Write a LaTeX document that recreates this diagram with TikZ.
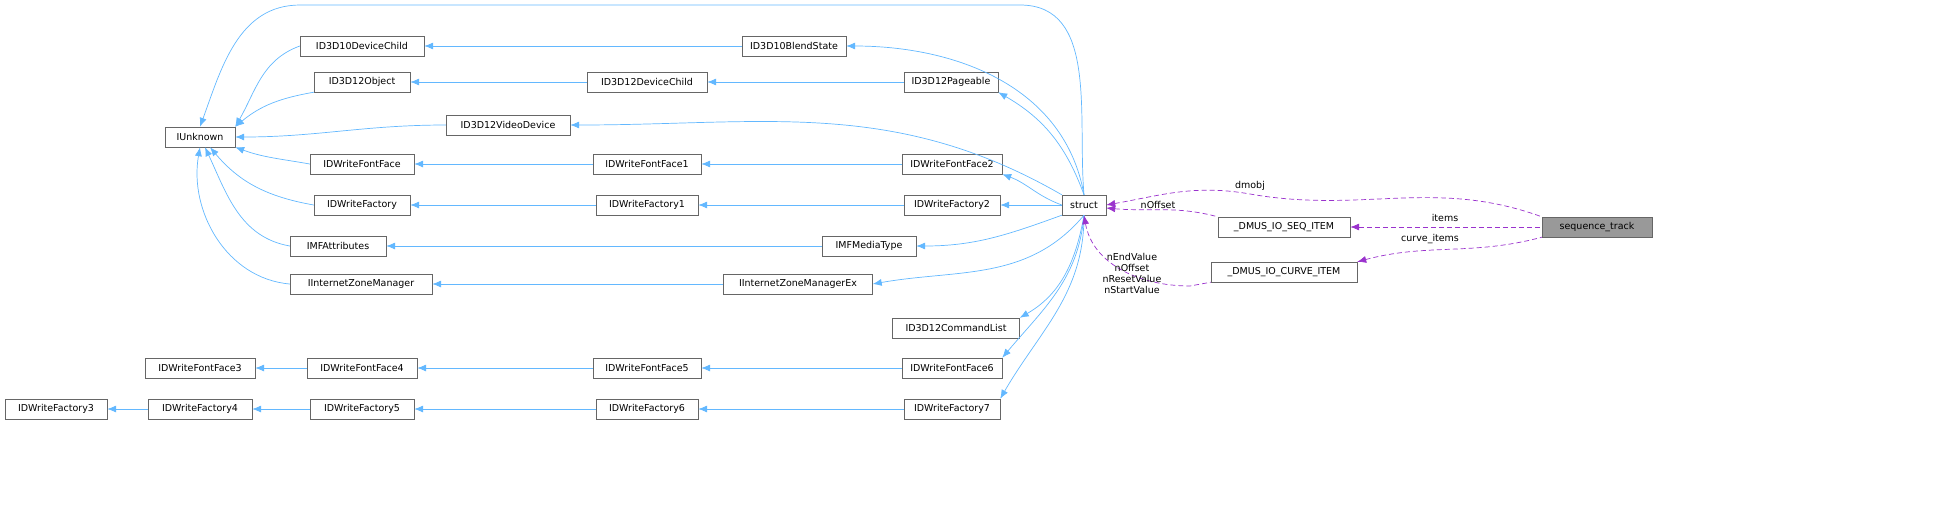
\documentclass[tikz,border=0pt]{standalone}
\usepackage{fontspec}
\setmainfont{DejaVu Sans}
\usetikzlibrary{arrows.meta}
\definecolor{eb}{HTML}{63B8FF}
\definecolor{ep}{HTML}{9A32CD}
\begin{document}
\begin{tikzpicture}[x=0.5pt,y=-0.5pt,transform shape,scale=1,
 every node/.append style={scale=0.5},
 box/.style={draw=black!60,fill=white,minimum height=20pt,inner sep=0pt,font=\fontsize{9.5}{11}\selectfont},
 inh/.style={draw=eb,line width=0.35pt,{Latex[length=4.5pt,width=3.5pt]}-},
 mem/.style={draw=ep,line width=0.35pt,dashed,dash pattern=on 2.5pt off 1.5pt,{Latex[length=4.5pt,width=3.5pt]}-},
 lab/.style={font=\fontsize{9.5}{11}\selectfont,inner sep=1pt,align=center}]
\useasboundingbox (0,0) rectangle (1953,526);
\def\N#1#2#3#4#5{\node[box,minimum width=#4pt] (#1) at (#2,#3) {#5};}
\N{iu}{200}{137}{70}{IUnknown}
\N{d10dc}{362}{46}{124}{ID3D10DeviceChild}
\N{d12o}{362}{82}{96}{ID3D12Object}
\N{vd}{508}{125}{124}{ID3D12VideoDevice}
\N{ff}{362}{164}{104}{IDWriteFontFace}
\N{fa}{362}{205}{96}{IDWriteFactory}
\N{mfa}{338}{246}{96}{IMFAttributes}
\N{izm}{361}{284}{142}{IInternetZoneManager}
\N{bs}{794}{46}{104}{ID3D10BlendState}
\N{d12dc}{647}{82}{120}{ID3D12DeviceChild}
\N{pg}{951}{82}{94}{ID3D12Pageable}
\N{ff1}{647}{164}{108}{IDWriteFontFace1}
\N{ff2}{952}{164}{100}{IDWriteFontFace2}
\N{fa1}{647}{205}{102}{IDWriteFactory1}
\N{fa2}{952}{205}{96}{IDWriteFactory2}
\N{mt}{869}{246}{94}{IMFMediaType}
\N{izme}{798}{284}{149}{IInternetZoneManagerEx}
\N{st}{1084}{205}{44}{struct}
\N{cl}{956}{328}{127}{ID3D12CommandList}
\N{ff3}{200}{368}{110}{IDWriteFontFace3}
\N{ff4}{362}{368}{110}{IDWriteFontFace4}
\N{ff5}{647}{368}{108}{IDWriteFontFace5}
\N{ff6}{952}{368}{100}{IDWriteFontFace6}
\N{fa3}{56}{409}{102}{IDWriteFactory3}
\N{fa4}{200}{409}{104}{IDWriteFactory4}
\N{fa5}{362}{409}{104}{IDWriteFactory5}
\N{fa6}{647}{409}{102}{IDWriteFactory6}
\N{fa7}{952}{409}{96}{IDWriteFactory7}
\N{seq}{1284}{227}{132}{\_DMUS\_IO\_SEQ\_ITEM}
\N{cur}{1284}{272}{146}{\_DMUS\_IO\_CURVE\_ITEM}
\node[box,minimum width=110pt,fill=black!40] (trk) at (1597,227) {sequence\_track};
% IUnknown children
\draw[inh] (iu.north east) to[out=60,in=200] (d10dc.west);
\draw[inh] (iu.north east) to[out=40,in=190] (d12o.south west);
\draw[inh] (iu.east) to[out=0,in=180] (vd.west);
\draw[inh] (iu.south east) to[out=-20,in=170] (ff.west);
\draw[inh] (iu.south) ++(10,0) to[out=-50,in=170] (fa.west);
\draw[inh] (iu.south) ++(5,0) to[out=-65,in=170] (mfa.west);
\draw[inh] (iu.south) to[out=-100,in=175] (izm.west);
\draw[inh] (iu.north) to[out=70,in=180] (300,5) -- (1020,5) to[out=0,in=95] (st.north);
% chains
\draw[inh] (d10dc) -- (bs); \draw[inh] (bs.east) to[out=0,in=100] (st.north);
\draw[inh] (d12o) -- (d12dc); \draw[inh] (d12dc) -- (pg); \draw[inh] (pg.south east) to[out=-30,in=110] (st.north);
\draw[inh] (vd.east) to[out=0,in=150] (st.north west);
\draw[inh] (ff) -- (ff1); \draw[inh] (ff1) -- (ff2); \draw[inh] (ff2.south east) to[out=-20,in=160] (st.west);
\draw[inh] (fa) -- (fa1); \draw[inh] (fa1) -- (fa2); \draw[inh] (fa2) -- (st);
\draw[inh] (mfa) -- (mt); \draw[inh] (mt.east) to[out=0,in=200] (st.south west);
\draw[inh] (izm) -- (izme); \draw[inh] (izme.east) to[out=10,in=-130] (st.south);
\draw[inh] (cl.north east) to[out=30,in=-100] (st.south);
\draw[inh] (ff3) -- (ff4); \draw[inh] (ff4) -- (ff5); \draw[inh] (ff5) -- (ff6); \draw[inh] (ff6.north east) to[out=50,in=-95] (st.south);
\draw[inh] (fa3) -- (fa4); \draw[inh] (fa4) -- (fa5); \draw[inh] (fa5) -- (fa6); \draw[inh] (fa6) -- (fa7); \draw[inh] (fa7.north east) to[out=60,in=-90] (st.south);
% members
\draw[mem] (st.east) to[out=10,in=170] (1250,194) to[out=-10,in=160] (trk.north west);
\node[lab] at (1250,186) {dmobj};
\draw[mem] (st.east) ++(0,3) to[out=-5,in=165] (seq.north west);
\node[lab] at (1158,205) {nOffset};
\draw[mem] (seq) -- (trk);
\node[lab] at (1445,218) {items};
\draw[mem] (cur.north east) to[out=15,in=195] (trk.south west);
\node[lab] at (1430,239) {curve\_items};
\draw[mem] (st.south) to[out=-80,in=180] (1190,286) -- (cur.south west);
\node[lab] at (1132,273) {nEndValue\\nOffset\\nResetValue\\nStartValue};
\end{tikzpicture}
\end{document}
